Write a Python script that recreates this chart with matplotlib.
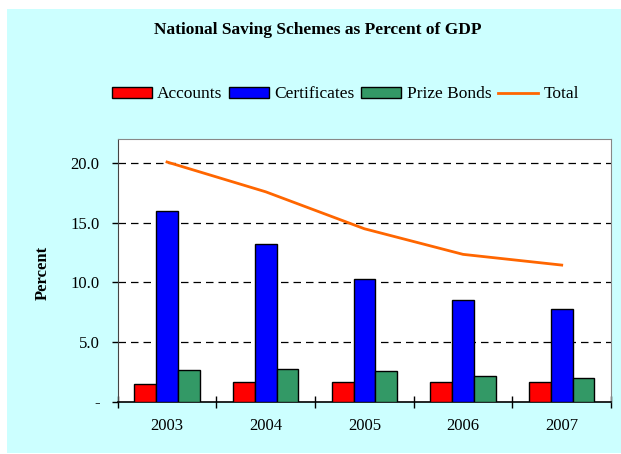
import numpy as np
import matplotlib
matplotlib.use("Agg")
import matplotlib.pyplot as plt
from matplotlib.patches import Rectangle

plt.rcParams['font.family'] = ['Liberation Serif', 'DejaVu Serif']

years = ['2003', '2004', '2005', '2006', '2007']
accounts = [1.5, 1.65, 1.65, 1.65, 1.65]
certificates = [16.0, 13.2, 10.3, 8.5, 7.8]
prize_bonds = [2.65, 2.75, 2.55, 2.15, 2.0]
total = [20.1, 17.6, 14.5, 12.35, 11.45]
yticks = [0, 5, 10, 15, 20]
ytick_labels = ['-', '5.0', '10.0', '15.0', '20.0']

fig = plt.figure(figsize=(6.21, 4.54), dpi=100)
fig.patch.set_facecolor('white')
# cyan panel behind everything
fig.patches.append(Rectangle((7 / 621, 1 / 454), 614 / 621, 444 / 454,
                             transform=fig.transFigure, facecolor='#CCFFFF',
                             edgecolor='none', zorder=-10))

ax = fig.add_axes([0.1895, 0.1156, 0.7945, 0.5774])
ax.set_facecolor('white')

x = np.arange(len(years))
w = 0.22
b1 = ax.bar(x - w, accounts, w, color='#FF0000', edgecolor='black', linewidth=1, label='Accounts', zorder=3)
b2 = ax.bar(x, certificates, w, color='#0000FF', edgecolor='black', linewidth=1, label='Certificates', zorder=3)
b3 = ax.bar(x + w, prize_bonds, w, color='#339966', edgecolor='black', linewidth=1, label='Prize Bonds', zorder=3)
l1, = ax.plot(x, total, color='#FF6600', linewidth=2.0, label='Total', zorder=4)

ax.set_xlim(-0.5, 4.5)
ax.set_ylim(0, 22)
ax.set_yticks(yticks)
ax.set_yticklabels(ytick_labels, fontsize=12)
ax.set_xticks(x)
ax.set_xticklabels(years, fontsize=12)
ax.tick_params(axis='x', length=0, pad=12)
ax.tick_params(axis='y', direction='out', length=4, width=1, pad=9)
# minor ticks between categories
ax.set_xticks(np.arange(-0.5, 5.0, 1.0), minor=True)
ax.tick_params(axis='x', which='minor', direction='inout', length=8, width=1)

for v in yticks[1:]:
    ax.axhline(v, color='black', linestyle=(0, (6, 4)), linewidth=0.9, zorder=1)

for side in ['top', 'right']:
    ax.spines[side].set_color('#888888')
ax.spines['left'].set_color('#444444')
ax.spines['bottom'].set_color('black')
ax.spines['bottom'].set_linewidth(1.2)

ax.set_ylabel('Percent', fontsize=12, fontweight='bold')
ax.yaxis.set_label_coords(-0.135, 0.49)

fig.text(0.512, 0.934, 'National Saving Schemes as Percent of GDP',
         ha='center', va='center', fontsize=12.5, fontweight='bold')

fig.legend([b1, b2, b3, l1], ['Accounts', 'Certificates', 'Prize Bonds', 'Total'],
           loc='center', bbox_to_anchor=(0.556, 0.792), ncol=4, frameon=False,
           fontsize=12.5, handlelength=2.3, handleheight=0.55, handletextpad=0.3,
           columnspacing=0.4)

fig.savefig('out.png', dpi=100)
